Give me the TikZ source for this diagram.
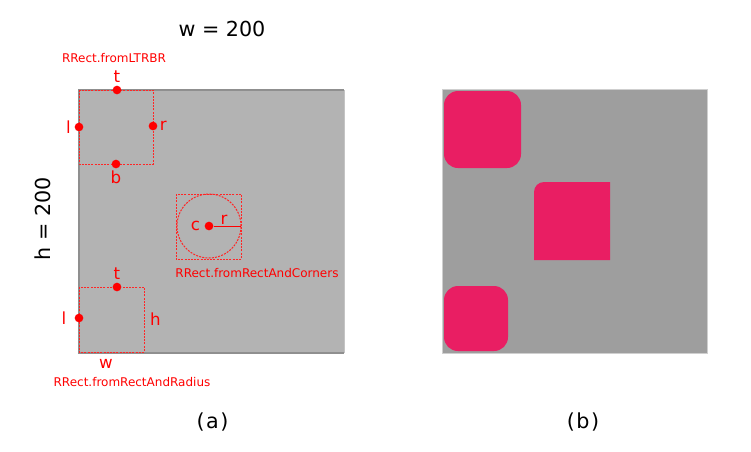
\documentclass[tikz,border=0pt]{standalone}
\usepackage{fontspec}
\setmainfont{DejaVu Sans}
\usetikzlibrary{positioning}
\definecolor{rrPanel}{HTML}{B3B3B3}
\definecolor{rrEdge}{HTML}{8F8F8F}
\definecolor{rrEdgeL}{HTML}{C4C4C4}
\definecolor{rrPanelB}{HTML}{9E9E9E}
\definecolor{rrEdgeB}{HTML}{CFCFCF}
\definecolor{rrRed}{HTML}{FF0000}
\definecolor{rrPink}{HTML}{E91E63}
\tikzset{
  panelb/.style={fill=rrPanelB, draw=rrEdgeB, line width=0.75pt},
  guide/.style={draw=rrRed!85, dash pattern=on 1.5pt off 0.9pt, line width=0.75pt},
  pin/.style={circle, fill=rrRed, inner sep=0pt, minimum size=6.5pt},
  tag/.style={font=\fontsize{12.5}{15}\selectfont, text=rrRed, inner sep=1pt},
  ctor/.style={font=\fontsize{9}{11}\selectfont, text=rrRed, inner sep=1pt},
  dim/.style={font=\fontsize{15.5}{18}\selectfont, text=black, inner sep=1pt},
  blob/.style={fill=rrPink},
}

\begin{document}
\begin{tikzpicture}[x=0.75pt, y=-0.75pt]
  \useasboundingbox (0,0) rectangle (751,451);

  % (a) the three constructors
  \fill[rrPanel] (79,90) rectangle (344,353);
  \draw[rrEdgeL, line width=0.75pt] (344,90) -- (344,353);
  \draw[rrEdge, line width=0.9pt] (344,353) -- (79,353) -- (79,90) -- (344,90);
  \node[dim] (wdim) at (222,29) {w = 200};
  \node[dim, rotate=90] (hdim) at (43,219) {h = 200};

  % fromLTRBR
  \draw[guide] (79,90) rectangle (153,164);
  \node[pin] (ltT) at (117,90) {};
  \node[pin] (ltL) at (79,127) {};
  \node[pin] (ltR) at (153,126) {};
  \node[pin] (ltB) at (116,164) {};
  \node[tag, above=1pt of ltT] (ltTt) {t};
  \node[tag, left=1.5pt of ltL] (ltLt) {l};
  \node[tag, right=0.5pt of ltR] (ltRt) {r};
  \node[tag, below=0.5pt of ltB] (ltBt) {b};
  \node[ctor] (ltName) at (114,58) {RRect.fromLTRBR};

  % fromRectAndCorners
  \draw[guide] (176,194) rectangle (241,259);
  \draw[guide] (209,226) circle (24pt);
  \node[pin] (rcC) at (209,226) {};
  \coordinate (rcEdge) at (241,226);
  \draw[rrRed, line width=0.75pt] (rcC) -- (rcEdge);
  \node[tag, left=2pt of rcC] (rcCt) {c};
  \node[tag, anchor=south, inner sep=0pt] (rcRt) at (224,225) {r};
  \node[ctor] (rcName) at (257,273) {RRect.fromRectAndCorners};

  % fromRectAndRadius
  \draw[guide] (79,287) rectangle (144,352);
  \node[pin] (rrT) at (117,287) {};
  \node[pin] (rrL) at (79,318) {};
  \node[tag, above=1pt of rrT] (rrTt) {t};
  \node[tag, left=5pt of rrL] (rrLt) {l};
  \node[tag] (rrH) at (155.5,319) {h};
  \node[tag] (rrW) at (106,364) {w};
  \node[ctor] (rrName) at (132,382) {RRect.fromRectAndRadius};

  \node[dim] (capA) at (212.5,422) {(\kern1.2pt a\kern1.2pt)};

  % (b) the drawn result
  \draw[panelb] (442,89) rectangle (707,353);
  \fill[blob, rounded corners=10.5pt] (444,91) rectangle (521,168);
  \fill[blob] (534,260) [rounded corners=7.5pt] -- (534,182) [sharp corners] -- (610,182) -- (610,260) -- cycle;
  \fill[blob, rounded corners=10.5pt] (444,286) rectangle (508,351);

  \node[dim] (capB) at (583,422) {(\kern1.2pt b\kern1.2pt)};
\end{tikzpicture}
\end{document}
